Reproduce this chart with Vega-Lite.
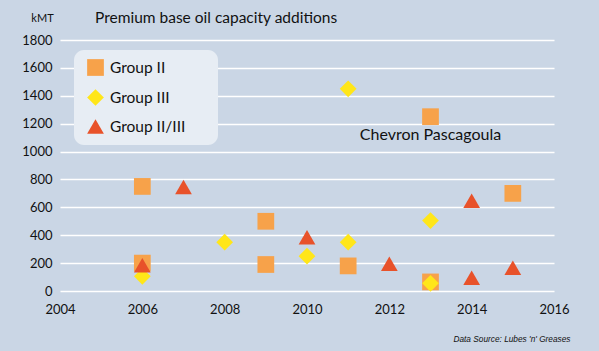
{
  "$schema": "https://vega.github.io/schema/vega-lite/v6.json",
  "autosize": "none",
  "width": 494,
  "height": 251,
  "padding": {"left": 60, "top": 40, "right": 45, "bottom": 60},
  "background": "#cad6e5",
  "title": {"text": "Premium base oil capacity additions", "anchor": "start", "frame": "group", "dx": 35, "offset": -14, "fontSize": 15.5, "font": "Lato", "fontWeight": "normal", "color": "#111111"},
  "datasets": {
    "points": [
      {"year": 2006, "kmt": 750, "group": "Group II"},
      {"year": 2006, "kmt": 200, "group": "Group II"},
      {"year": 2009, "kmt": 500, "group": "Group II"},
      {"year": 2009, "kmt": 190, "group": "Group II"},
      {"year": 2011, "kmt": 180, "group": "Group II"},
      {"year": 2013, "kmt": 1250, "group": "Group II"},
      {"year": 2013, "kmt": 65, "group": "Group II"},
      {"year": 2015, "kmt": 700, "group": "Group II"},
      {"year": 2006, "kmt": 105, "group": "Group III"},
      {"year": 2008, "kmt": 350, "group": "Group III"},
      {"year": 2010, "kmt": 250, "group": "Group III"},
      {"year": 2011, "kmt": 1450, "group": "Group III"},
      {"year": 2011, "kmt": 350, "group": "Group III"},
      {"year": 2013, "kmt": 505, "group": "Group III"},
      {"year": 2013, "kmt": 55, "group": "Group III"},
      {"year": 2006, "kmt": 185, "group": "Group II/III"},
      {"year": 2007, "kmt": 745, "group": "Group II/III"},
      {"year": 2010, "kmt": 385, "group": "Group II/III"},
      {"year": 2012, "kmt": 195, "group": "Group II/III"},
      {"year": 2014, "kmt": 648, "group": "Group II/III"},
      {"year": 2014, "kmt": 95, "group": "Group II/III"},
      {"year": 2015, "kmt": 167, "group": "Group II/III"}
    ],
    "notes": [
      {"year": 2013, "kmt": 1117, "label": "Chevron Pascagoula"}
    ]
  },
  "layer": [
    {
      "data": {"name": "points"},
      "mark": {"type": "point", "filled": true, "opacity": 1, "size": 280},
      "encoding": {
        "x": {"field": "year", "type": "quantitative", "scale": {"domain": [2004, 2016], "nice": false, "zero": false},
          "axis": {"values": [2004, 2006, 2008, 2010, 2012, 2014, 2016], "tickCount": 12, "format": "d", "labelOverlap": false, "labelFlush": false, "grid": false, "domain": false, "ticks": false, "labelPadding": 12, "labelFontSize": 13, "labelFont": "Lato", "labelColor": "#111111",
            "title": "Data Source: Lubes 'n' Greases", "titleX": 510, "titleY": 48, "titleAlign": "right", "titleBaseline": "middle", "titleFont": "Liberation Sans", "titleFontStyle": "italic", "titleFontWeight": "normal", "titleFontSize": 8.3, "titleColor": "#111111"}},
        "y": {"field": "kmt", "type": "quantitative", "scale": {"domain": [0, 1800], "nice": false},
          "axis": {"values": [0, 200, 400, 600, 800, 1000, 1200, 1400, 1600, 1800], "tickCount": 12, "format": "d", "labelOverlap": false, "grid": true, "gridColor": "#ffffff", "gridWidth": 1.6, "domain": false, "ticks": false, "labelPadding": 8, "labelFontSize": 13, "labelFont": "Lato", "labelColor": "#111111",
            "title": "kMT", "titleAngle": 0, "titleX": -18, "titleY": -22, "titleAlign": "center", "titleBaseline": "middle", "titleFont": "Lato", "titleFontWeight": "normal", "titleFontSize": 11, "titleColor": "#111111"}},
        "shape": {"field": "group", "type": "nominal", "scale": {"domain": ["Group II", "Group III", "Group II/III"], "range": ["square", "diamond", "triangle-up"]}, "title": null},
        "color": {"field": "group", "type": "nominal", "scale": {"domain": ["Group II", "Group III", "Group II/III"], "range": ["#f7a24a", "#ffe619", "#e8522a"]}, "title": null,
          "legend": {"orient": "none", "legendX": 14, "legendY": 10, "fillColor": "#e7edf4", "cornerRadius": 10, "padding": 8, "symbolOffset": 4, "symbolSize": 280, "symbolOpacity": 1, "labelFontSize": 15.5, "labelFont": "Lato", "labelColor": "#111111", "labelOffset": 5, "rowPadding": 7, "labelExpr": "datum.label + '\u00a0\u00a0\u00a0\u2800'"}}
      }
    },
    {
      "data": {"name": "notes"},
      "mark": {"type": "text", "fontSize": 16, "font": "Lato", "color": "#111111", "align": "center", "baseline": "middle"},
      "encoding": {
        "x": {"field": "year", "type": "quantitative"},
        "y": {"field": "kmt", "type": "quantitative"},
        "text": {"field": "label"}
      }
    }
  ],
  "config": {"view": {"stroke": null}}
}
